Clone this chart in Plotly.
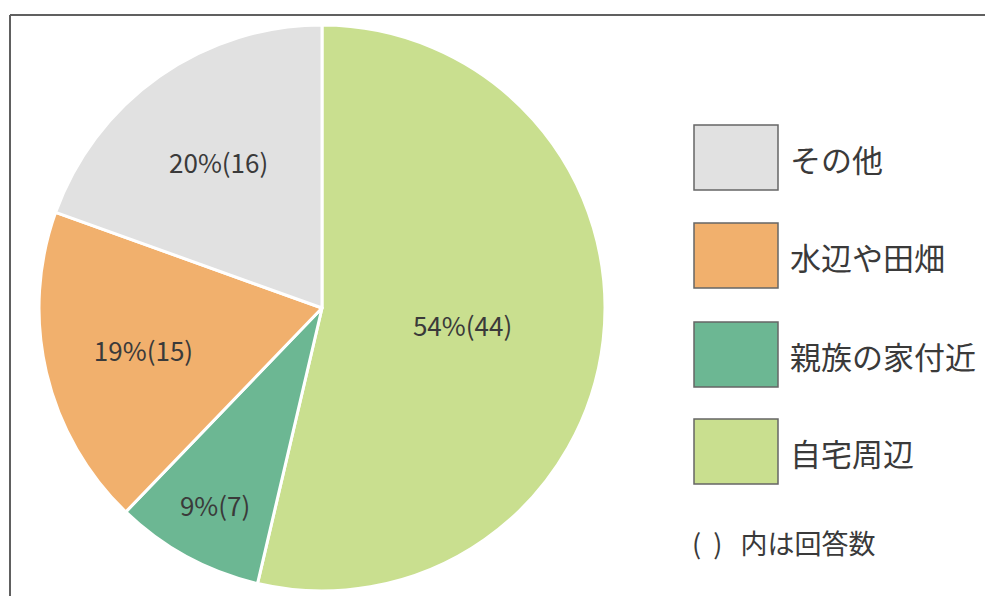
import plotly.graph_objects as go

labels = ["自宅周辺", "親族の家付近", "水辺や田畑", "その他"]
counts = [44, 7, 15, 16]
pct_labels = ["54%", "9%", "19%", "20%"]
colors = ["#c9df8f", "#6cb793", "#f1b06d", "#e1e1e1"]
legend_order = ["その他", "水辺や田畑", "親族の家付近", "自宅周辺"]
note = "(  )   内は回答数"

FONT = "Noto Sans CJK JP"
TXT = "#3a3a3a"

W, H = 985, 596
cx, cy, r = 322, 308, 283

texts = [f"{p}({c})" for p, c in zip(pct_labels, counts)]

fig = go.Figure(go.Pie(
    labels=labels, values=counts, sort=False, direction="clockwise", rotation=0,
    text=texts, textinfo="text", textposition="inside",
    insidetextorientation="horizontal",
    textfont=dict(family=FONT, size=26, color=TXT),
    marker=dict(colors=colors, line=dict(color="white", width=3)),
    domain=dict(x=[(cx - r) / W, (cx + r) / W], y=[(H - cy - r) / H, (H - cy + r) / H]),
    showlegend=False, hoverinfo="label+value",
))

shapes = [
    dict(type="line", xref="paper", yref="paper", x0=10 / W, x1=1, y0=1 - 15 / H, y1=1 - 15 / H,
         line=dict(color="#606060", width=2)),
    dict(type="line", xref="paper", yref="paper", x0=10 / W, x1=10 / W, y0=0, y1=1 - 15 / H,
         line=dict(color="#606060", width=2)),
]
annotations = []
box_tops = [125, 223, 322, 419]
color_of = dict(zip(labels, colors))
for name, top in zip(legend_order, box_tops):
    shapes.append(dict(type="rect", xref="paper", yref="paper",
                       x0=694 / W, x1=778 / W, y0=1 - (top + 65) / H, y1=1 - top / H,
                       fillcolor=color_of[name], line=dict(color="#666666", width=1.5)))
    annotations.append(dict(xref="paper", yref="paper", x=788 / W, y=1 - (top + 33) / H,
                            xanchor="left", yanchor="middle", showarrow=False, text=name,
                            font=dict(family=FONT, size=31, color=TXT)))
annotations.append(dict(xref="paper", yref="paper", x=690 / W, y=1 - 542 / H,
                        xanchor="left", yanchor="middle", showarrow=False, text=note,
                        font=dict(family=FONT, size=27, color=TXT)))

fig.update_layout(width=W, height=H, margin=dict(l=0, r=0, t=0, b=0),
                  paper_bgcolor="white", plot_bgcolor="white",
                  shapes=shapes, annotations=annotations)
fig.write_html("out.html")
